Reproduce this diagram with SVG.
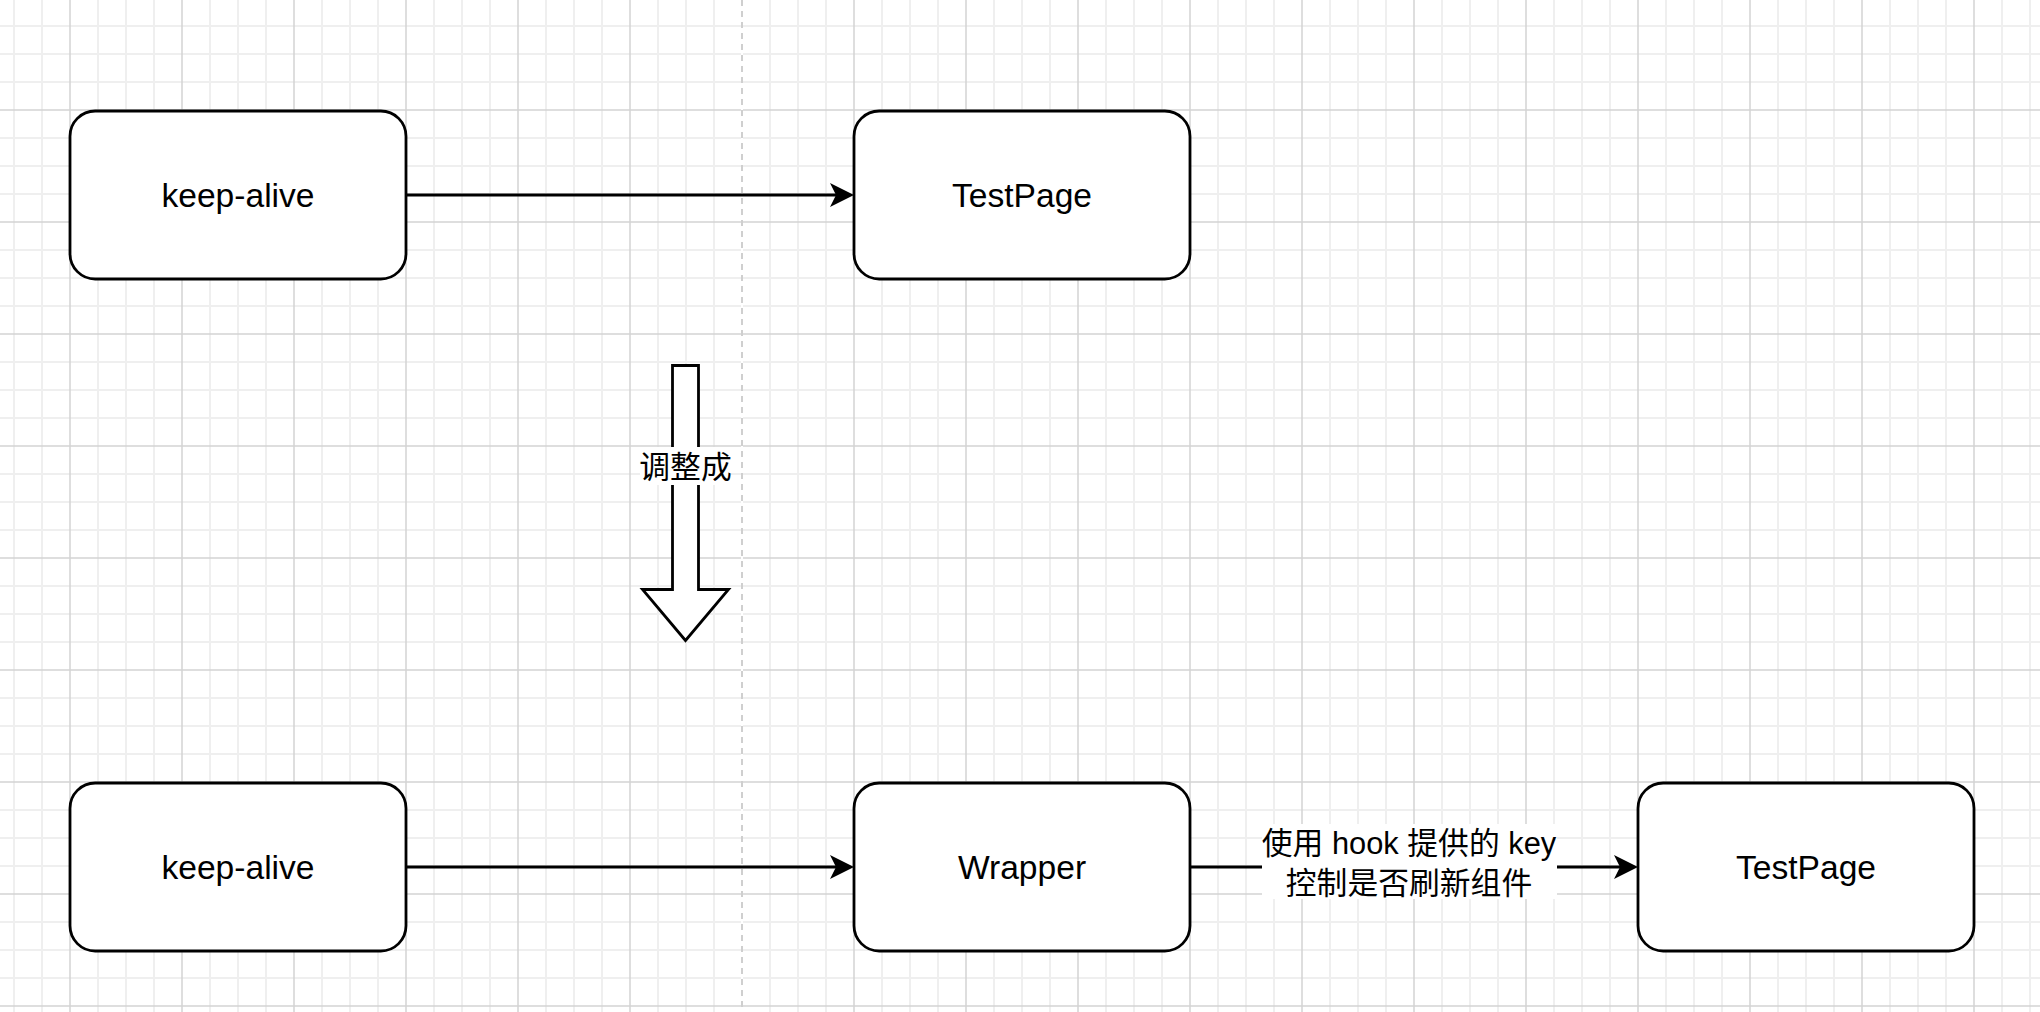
<svg xmlns="http://www.w3.org/2000/svg" width="2040" height="1012" viewBox="0 0 2040 1012">
  <defs>
    <pattern id="grid" x="56" y="96" width="112" height="112" patternUnits="userSpaceOnUse">
      <path d="M42,0 V112 M70,0 V112 M98,0 V112 M0,42 H112 M0,70 H112 M0,98 H112" stroke="#efefef" stroke-width="2" fill="none"/>
      <path d="M14,0 V112 M0,14 H112" stroke="#d4d4d4" stroke-width="1.5" fill="none"/>
    </pattern>
    <marker id="arrow" markerUnits="userSpaceOnUse" markerWidth="24" markerHeight="24" refX="8" refY="12" orient="auto" overflow="visible">
      <path d="M0,0 L24,12 L0,24 L6,12 Z" fill="#000000"/>
    </marker>
    <style>
      .node rect { fill: #ffffff; stroke: #000000; stroke-width: 2.8; }
      .label { font-family: "Liberation Sans", "Noto Sans CJK SC", sans-serif; font-size: 33.6px; fill: #000000; text-anchor: middle; }
      .elabel { font-family: "Liberation Sans", "Noto Sans CJK SC", sans-serif; font-size: 30.8px; fill: #000000; text-anchor: middle; }
      .edge { stroke: #000000; stroke-width: 2.8; fill: none; marker-end: url(#arrow); }
    </style>
  </defs>

  <rect x="0" y="0" width="2040" height="1012" fill="#ffffff"/>
  <rect x="0" y="0" width="2040" height="1012" fill="url(#grid)"/>
  <line x1="742" y1="0" x2="742" y2="1012" stroke="#ffffff" stroke-width="2"/>
  <line x1="742" y1="0" x2="742" y2="1012" stroke="#c0c0c0" stroke-width="1.5" stroke-dasharray="6 5"/>

  <g id="connectors">
    <line class="edge" x1="406" y1="195" x2="838" y2="195"/>
    <line class="edge" x1="406" y1="867" x2="838" y2="867"/>
    <g id="edge-wrapper-testpage">
      <line class="edge" x1="1190" y1="867" x2="1622" y2="867"/>
      <rect x="1262" y="824" width="295" height="75" fill="#ffffff"/>
      <text class="elabel" x="1409" y="854">使用 hook 提供的 key</text>
      <text class="elabel" x="1409" y="894">控制是否刷新组件</text>
    </g>
  </g>

  <g id="node-keepalive-top" class="node">
    <rect x="70" y="111" width="336" height="168" rx="25.2" ry="25.2"/>
    <text class="label" x="238" y="206.5">keep-alive</text>
  </g>
  <g id="node-testpage-top" class="node">
    <rect x="854" y="111" width="336" height="168" rx="25.2" ry="25.2"/>
    <text class="label" x="1022" y="206.5">TestPage</text>
  </g>

  <g id="node-transform-arrow">
    <path d="M672.5,365.5 H698.5 V589.5 H728.5 L685.5,640.5 L642.5,589.5 H672.5 Z" fill="#ffffff" stroke="#000000" stroke-width="2.8" stroke-linejoin="miter"/>
    <rect x="640" y="447" width="91" height="38" fill="#ffffff"/>
    <text class="elabel" x="685.5" y="478">调整成</text>
  </g>

  <g id="node-keepalive-bottom" class="node">
    <rect x="70" y="783" width="336" height="168" rx="25.2" ry="25.2"/>
    <text class="label" x="238" y="878.5">keep-alive</text>
  </g>
  <g id="node-wrapper" class="node">
    <rect x="854" y="783" width="336" height="168" rx="25.2" ry="25.2"/>
    <text class="label" x="1022" y="878.5">Wrapper</text>
  </g>
  <g id="node-testpage-bottom" class="node">
    <rect x="1638" y="783" width="336" height="168" rx="25.2" ry="25.2"/>
    <text class="label" x="1806" y="878.5">TestPage</text>
  </g>
</svg>
